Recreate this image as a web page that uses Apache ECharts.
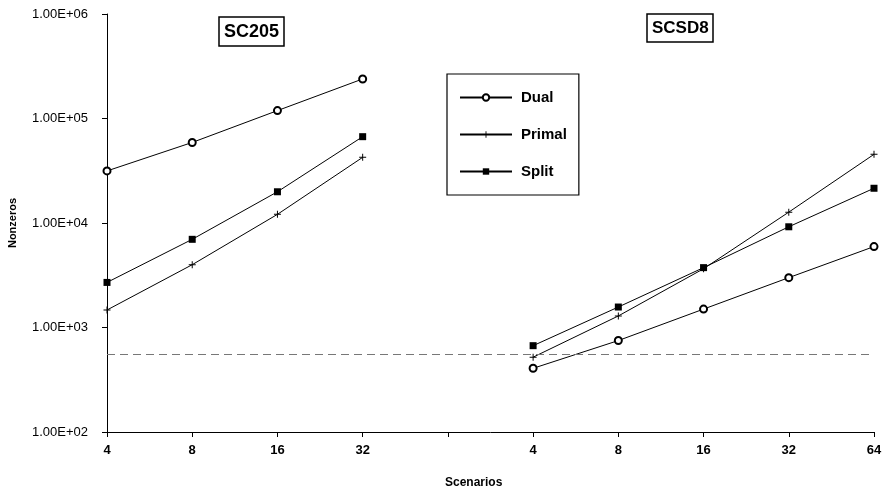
<!DOCTYPE html>
<html>
<head>
<meta charset="utf-8">
<script src="https://cdn.jsdelivr.net/npm/echarts@6/dist/echarts.min.js"></script>
<style>html,body{margin:0;padding:0;background:#fff}#c{width:886px;height:497px}</style>
</head>
<body>
<div id="c"></div>
<script>
var categories = ['4', '8', '16', '32', '', '4', '8', '16', '32', '64'];
var dual   = [31500, 59000, 119000, 239000, null, 407, 750, 1500, 3000, 5950];
var primal = [1470, 3990, 12100, 42500, null, 520, 1290, 3650, 12700, 45400];
var split  = [2700, 6980, 19900, 67000, null, 670, 1570, 3740, 9200, 21500];
var artifactLevel = 560;

var font = 'Liberation Sans, Arial, sans-serif';
var plus = 'path://M-0.7,-5H0.7V-0.7H5V0.7H0.7V5H-0.7V0.7H-5V-0.7H-0.7Z';

var chart = echarts.init(document.getElementById('c'), null, {renderer: 'canvas'});
chart.setOption({
  animation: false,
  backgroundColor: '#fff',
  grid: {left: 107, right: 12, top: 14, bottom: 65, containLabel: false, outerBoundsMode: 'none'},
  title: [
    {text: 'SC205', left: 219, top: 17, padding: [6, 5, 5, 5], borderColor: '#000', borderWidth: 1.5,
     textStyle: {fontFamily: font, fontWeight: 'bold', fontSize: 18, color: '#000'}},
    {text: 'SCSD8', left: 647, top: 14, padding: [6, 5, 5, 5], borderColor: '#000', borderWidth: 1.5,
     textStyle: {fontFamily: font, fontWeight: 'bold', fontSize: 17, color: '#000'}}
  ],
  legend: {
    orient: 'vertical', left: 447, top: 74, padding: [16, 12, 16, 12],
    itemWidth: 52, itemHeight: 8, itemGap: 22,
    borderColor: '#000', borderWidth: 1.2,
    textStyle: {fontFamily: font, fontWeight: 'bold', fontSize: 15, color: '#000', padding: [0, 0, 0, 4]},
    data: ['Dual', 'Primal', 'Split']
  },
  xAxis: {
    type: 'category', data: categories, boundaryGap: false,
    name: 'Scenarios', nameLocation: 'start', nameGap: 0,
    nameTextStyle: {fontFamily: font, fontWeight: 'bold', fontSize: 12, color: '#000', align: 'left', verticalAlign: 'top', padding: [45, 0, 0, 338]},
    axisLine: {lineStyle: {color: '#000', width: 1}},
    axisTick: {show: true, length: 5, interval: 0, lineStyle: {color: '#000'}},
    axisLabel: {interval: 0, margin: 12, fontFamily: font, fontWeight: 'bold', fontSize: 13, color: '#000'},
    splitLine: {show: false}
  },
  yAxis: {
    type: 'log', logBase: 10, min: 100, max: 1000000,
    name: 'Nonzeros', nameLocation: 'middle', nameGap: 89, nameRotate: 90,
    nameTextStyle: {fontFamily: font, fontWeight: 'bold', fontSize: 11, color: '#000'},
    axisLine: {show: true, lineStyle: {color: '#000', width: 1}},
    axisTick: {show: true, length: 5, lineStyle: {color: '#000'}},
    minorTick: {show: false},
    splitLine: {show: false},
    axisLabel: {margin: 19, fontFamily: font, fontSize: 13, color: '#000',
      formatter: function (v) { var e = Math.round(Math.log10(v)); return '1.00E+' + (e < 10 ? '0' : '') + e; }}
  },
  series: [
    {name: 'Dual', type: 'line', data: dual, connectNulls: false,
     symbol: 'emptyCircle', symbolSize: 7,
     lineStyle: {color: '#000', width: 1}, itemStyle: {color: '#000', borderColor: '#000', borderWidth: 1},
     markLine: {silent: true, symbol: 'none', label: {show: false},
       lineStyle: {color: '#777', width: 1, type: [8, 5]},
       data: [{yAxis: artifactLevel}]}
    },
    {name: 'Primal', type: 'line', data: primal, connectNulls: false,
     symbol: plus, symbolSize: 7,
     lineStyle: {color: '#000', width: 1}, itemStyle: {color: '#000'}},
    {name: 'Split', type: 'line', data: split, connectNulls: false,
     symbol: 'rect', symbolSize: 7,
     lineStyle: {color: '#000', width: 1}, itemStyle: {color: '#000'}}
  ]
});
</script>
</body>
</html>
